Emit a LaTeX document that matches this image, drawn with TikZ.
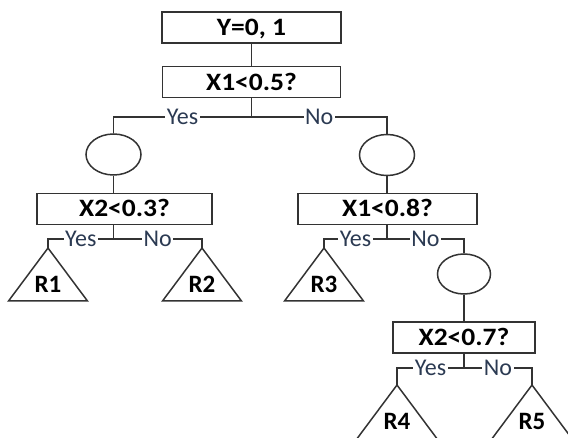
\documentclass[tikz,border=0pt]{standalone}
\usepackage{fontspec}
\setmainfont{Carlito}
\newfontfamily\testfont[FakeStretch=1.1]{Carlito}
\usetikzlibrary{positioning}
\usetikzlibrary{shapes.geometric}
\usetikzlibrary{calc}
\definecolor{edgegray}{HTML}{333333}
\definecolor{answerblue}{HTML}{2B3A52}

\begin{document}
\begin{tikzpicture}[x=1pt, y=-1pt, line width=1.5pt, edgegray, text=black,
  node distance=22pt,
  test/.style={rectangle, draw=edgegray, line width=1.6pt, minimum height=31pt,
    inner ysep=0pt, text height=16pt, text depth=0pt,
    font=\testfont\fontsize{25}{27}\selectfont\bfseries},
  chance/.style={ellipse, draw=edgegray, minimum width=55pt, minimum height=41pt},
  leaf/.style={font=\fontsize{25}{27}\selectfont\bfseries},
  answer/.style={pos=.25, fill=white, inner xsep=1.5pt, inner ysep=0pt, text=answerblue,
    text height=15.5pt, text depth=0pt, font=\fontsize{24}{26}\selectfont}]

  \useasboundingbox (0,0) rectangle (568,438);

  % tests and chance nodes
  \node[test, minimum width=179pt] (root) at (251.5,27.5) {Y=0, 1};
  \node[test, minimum width=178pt, below=22pt of root] (s1) {X1<0.5?};
  \node[chance] (c1) at (113.5,154.5) {};
  \node[chance] (c2) at (387,155) {};
  \node[test, minimum width=175pt] (s2) at (124.5,209) {X2<0.3?};
  \node[test, minimum width=179pt] (s3) at (387.5,209) {X1<0.8?};
  \node[chance, minimum width=53pt, minimum height=40pt] (c3) at (464,274) {};
  \node[test, minimum width=142pt] (s4) at (464,337.5) {X2<0.7?};

  % forks
  \coordinate (f1) at (s1.south |- 0,117);
  \coordinate (f2) at (113.5,239);
  \coordinate (f3) at (387,239);
  \coordinate (f4) at (464,368);

  % leaves
  \coordinate (t1) at (48,248);
  \coordinate (t2) at (202,248);
  \coordinate (t3) at (324,248);
  \coordinate (t4) at (397,385);
  \coordinate (t5) at (532,385);
  \foreach \t/\lab/\h in {t1/R1/53, t2/R2/53, t3/R3/53, t4/R4/60, t5/R5/60} {
    \draw[line join=miter] (\t) -- ++(-0.745*\h,\h) -- ++(1.49*\h,0) -- cycle;
    \node[leaf] (\t-label) at ($(\t)+(0,36)$) {\lab};
  }

  % connectors
  \draw (root) -- (s1);
  \draw (s1) -- (f1);
  \draw (f1) -| node[answer]{Yes} (c1.north);
  \draw (f1) -| node[answer]{No} (c2.north);
  \draw (c1.south) -- (c1.south |- s2.north);
  \draw (c2.south) -- (c2.south |- s3.north);
  \draw (f2 |- s2.south) -- (f2);
  \draw (f2) -| node[answer]{Yes} (t1);
  \draw (f2) -| node[answer]{No} (t2);
  \draw (f3 |- s3.south) -- (f3);
  \draw (f3) -| node[answer]{Yes} (t3);
  \draw (f3) -| node[answer]{No} (c3.north);
  \draw (c3.south) -- (s4.north);
  \draw (s4.south) -- (f4);
  \draw (f4) -| node[answer]{Yes} (t4);
  \draw (f4) -| node[answer]{No} (t5);
\end{tikzpicture}
\end{document}
